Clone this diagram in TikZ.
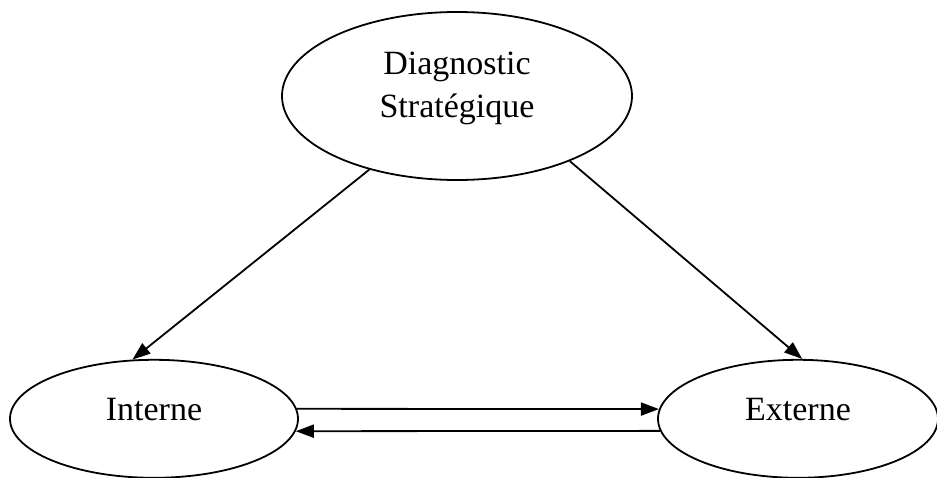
\documentclass[tikz,border=0pt]{standalone}
\usepackage{fontspec}
\setmainfont{Liberation Serif}
\usetikzlibrary{shapes,arrows.meta,positioning}

\begin{document}
\begin{tikzpicture}[x=1pt,y=1pt,every node/.style={ellipse,draw,line width=1.8pt,align=center,font=\fontsize{34}{43}\selectfont},>={Triangle[length=18pt,width=13pt]},line width=1.8pt]
      \useasboundingbox (0,0) rectangle (937,-477);
      \node[minimum width=350pt,minimum height=168pt,text depth=22pt](Diagnostic) at (457,-96) {Diagnostic\\Stratégique};
      \node[below=178pt of Diagnostic,xshift=-303pt,minimum width=288pt,minimum height=118pt,text depth=18pt](Interne) {Interne};
      \node[below=178pt of Diagnostic,xshift=341pt,minimum width=280pt,minimum height=118pt,text depth=18pt](Externe) {Externe};


      \path[->] (Diagnostic.220)   edge (Interne.110)
                (Diagnostic.330)   edge (Externe.86)
                (Interne.4)        edge (Externe.176)
                (Externe.185)      edge (Interne.355);

    \end{tikzpicture}
\end{document}
